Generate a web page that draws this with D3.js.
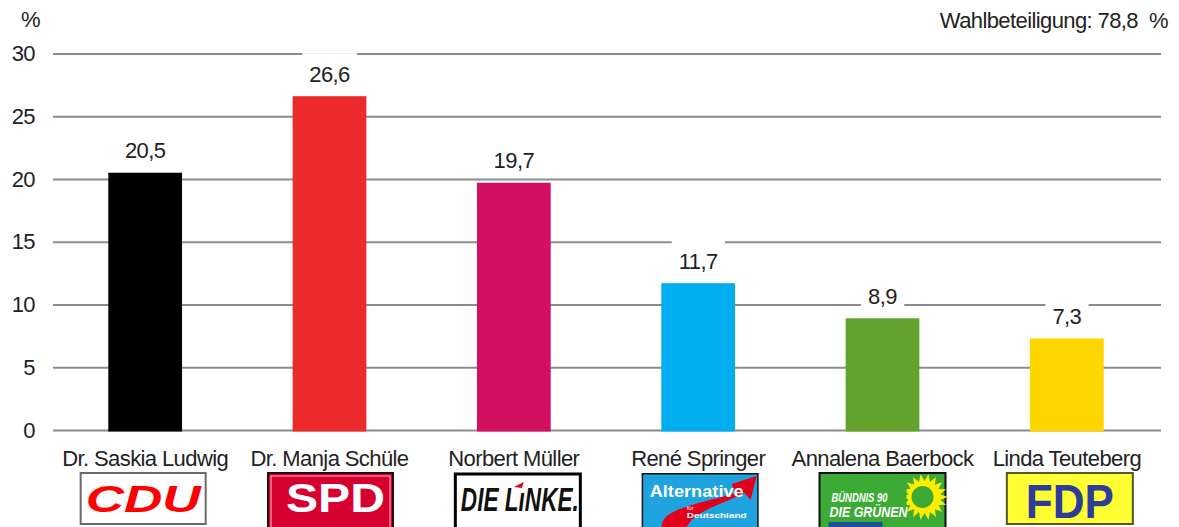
<!DOCTYPE html>
<html>
<head>
<meta charset="utf-8">
<script src="https://cdn.jsdelivr.net/npm/d3@7"></script>
<style>
  html, body { margin: 0; padding: 0; background: #fff; }
  svg { display: block; }
  text { font-family: "Liberation Sans", Arial, Helvetica, sans-serif; }
</style>
</head>
<body>
<svg id="chart" width="1179" height="527"></svg>
<script>
// ---- data ----
const candidates = ["Dr. Saskia Ludwig", "Dr. Manja Schüle", "Norbert Müller", "René Springer", "Annalena Baerbock", "Linda Teuteberg"];
const parties = ["CDU", "SPD", "LINKE", "AFD", "GRUENE", "FDP"];
const values = [20.5, 26.6, 19.7, 11.7, 8.9, 7.3];
const colors = ["#000000", "#ec2a2c", "#d20f60", "#00aeef", "#64a22e", "#ffd500"];
const yTicks = [0, 5, 10, 15, 20, 25, 30];
const unitLabel = "%";
const turnoutLabel = "Wahlbeteiligung: 78,8  %";

(function () {
// ---- setup ----
const pLeft = 53, pRight = 1161, pTop = 53.5, pBottom = 430;
const svg = d3.select("#chart");
const textColor = "#222";
const ls = "-0.6px";

const y = d3.scaleLinear().domain([0, 30]).range([pBottom, pTop]);
const x = d3.scaleBand().domain(candidates).range([pLeft, 1159]).paddingInner(0.6).paddingOuter(0.3);
const fmt = v => d3.format(".1f")(v).replace(".", ",");

// gridlines + y axis
const yAxis = d3.axisLeft(y).tickValues(yTicks).tickSize(-(pRight - pLeft)).tickPadding(18).tickFormat(d => d);
const gy = svg.append("g").attr("transform", `translate(${pLeft},0)`).call(yAxis);
gy.select(".domain").remove();
gy.selectAll(".tick line").attr("stroke", "#8c8c8c").attr("stroke-width", 2);
gy.selectAll(".tick text").attr("fill", textColor).attr("font-size", 22).style("letter-spacing", ls)
  .attr("font-family", "Liberation Sans, Arial, sans-serif");

// unit and turnout
svg.append("text").attr("x", 21).attr("y", 27).attr("font-size", 22).attr("fill", textColor).text(unitLabel);
svg.append("text").attr("x", 1168).attr("y", 28).attr("text-anchor", "end").attr("font-size", 22)
  .style("letter-spacing", ls).attr("fill", textColor).style("white-space", "pre").text(turnoutLabel);

// bars
svg.append("g").selectAll("rect").data(candidates).join("rect")
  .attr("x", d => x(d)).attr("width", x.bandwidth())
  .attr("y", (d, i) => y(values[i])).attr("height", (d, i) => y(0) - y(values[i]) + 1.5)
  .attr("fill", (d, i) => colors[i]);

// value labels with white background
const lg = svg.append("g");
candidates.forEach((c, i) => {
  const cx = x(c) + x.bandwidth() / 2;
  const base = y(values[i]) - 14.5;
  const g = lg.append("g");
  const bg = g.append("rect").attr("fill", "#fff");
  const t = g.append("text").attr("x", cx).attr("y", base).attr("text-anchor", "middle")
    .attr("font-size", 22).style("letter-spacing", ls).attr("fill", textColor).text(fmt(values[i]));
  const bb = t.node().getBBox();
  bg.attr("x", bb.x - 7).attr("width", bb.width + 14).attr("y", base - 28.5).attr("height", 33);
});

// category labels
svg.append("g").selectAll("text").data(candidates).join("text")
  .attr("x", d => x(d) + x.bandwidth() / 2).attr("y", 466).attr("text-anchor", "middle")
  .attr("font-size", 22).style("letter-spacing", ls).attr("fill", textColor).text(d => d);

// party logos
const logoTop = 473;
const drawLogo = {
  CDU(g, w) {
    g.append("rect").attr("x", 1).attr("y", 0).attr("width", w - 2).attr("height", 51).attr("fill", "#fff").attr("stroke", "#6b6b6b").attr("stroke-width", 2);
    g.append("text").attr("x", 6).attr("y", 39).attr("font-size", 37).attr("font-weight", "bold").attr("font-style", "italic")
      .attr("font-family", "DejaVu Sans, sans-serif").attr("fill", "#ff0000")
      .attr("textLength", 115).attr("lengthAdjust", "spacingAndGlyphs").text("CDU");
  },
  SPD(g, w) {
    g.append("rect").attr("x", 1).attr("y", 0).attr("width", w - 2).attr("height", 56).attr("fill", "#d5002f").attr("stroke", "#2a0810").attr("stroke-width", 2);
    g.append("rect").attr("x", 4).attr("y", 3).attr("width", w - 8).attr("height", 56).attr("fill", "none").attr("stroke", "#f3c0c8").attr("stroke-width", 1);
    g.append("text").attr("x", 19).attr("y", 39).attr("font-size", 41).attr("font-weight", "bold")
      .attr("font-family", "Liberation Sans, Arial, sans-serif").attr("fill", "#fff")
      .attr("textLength", 99).attr("lengthAdjust", "spacingAndGlyphs").text("SPD");
  },
  LINKE(g, w) {
    g.append("rect").attr("x", 1.5).attr("y", 1).attr("width", w - 3).attr("height", 56).attr("fill", "#fff").attr("stroke", "#000").attr("stroke-width", 3);
    g.append("text").attr("x", 7).attr("y", 38).attr("font-size", 33).attr("font-weight", "bold").attr("font-style", "italic")
      .attr("font-family", "DejaVu Sans, sans-serif").attr("fill", "#111")
      .attr("textLength", 118).attr("lengthAdjust", "spacingAndGlyphs").text("DIE LıNKE.");
    g.append("path").attr("d", "M 60 14 L 70 9 L 68 15 Z").attr("fill", "#e2001a");
  },
  AFD(g, w) {
    g.append("rect").attr("x", 0.75).attr("y", 0.75).attr("width", w - 1.5).attr("height", 60).attr("fill", "#1ea3df").attr("stroke", "#111").attr("stroke-width", 1.5);
    g.append("path").attr("d", "M 20 56 C 18 36, 50 33, 94 20 L 90 11 L 115 3 L 109 27 L 103 20 C 74 34, 52 38, 44 56 Z").attr("fill", "#e3001b");
    g.append("text").attr("x", 8).attr("y", 24).attr("font-size", 17).attr("font-weight", "bold")
      .attr("font-family", "Liberation Sans, Arial, sans-serif").attr("fill", "#fff")
      .attr("textLength", 94).attr("lengthAdjust", "spacingAndGlyphs").text("Alternative");
    g.append("text").attr("x", 45).attr("y", 37).attr("font-size", 6).attr("fill", "#fff").text("für");
    g.append("text").attr("x", 45).attr("y", 45).attr("font-size", 7).attr("font-weight", "bold").attr("fill", "#fff")
      .attr("textLength", 60).attr("lengthAdjust", "spacingAndGlyphs").text("Deutschland");
  },
  GRUENE(g, w) {
    g.append("rect").attr("x", 1).attr("y", 0).attr("width", w - 2).attr("height", 60).attr("fill", "#3bab35").attr("stroke", "#111").attr("stroke-width", 2);
    const cx = 106, cy = 24, n = 18;
    const pts = d3.range(n * 2).map(k => {
      const r = k % 2 ? 16 : 23, a = k * Math.PI / n;
      return [cx + r * Math.cos(a), cy + r * Math.sin(a)];
    });
    g.append("path").attr("d", d3.line()(pts) + "Z").attr("fill", "#ffed00");
    g.append("circle").attr("cx", cx - 2).attr("cy", cy).attr("r", 11).attr("fill", "#3bab35");
    g.append("rect").attr("x", 70).attr("y", 14).attr("width", 18).attr("height", 22).attr("fill", "#3bab35");
    g.append("text").attr("x", 13).attr("y", 29).attr("font-size", 13).attr("font-weight", "bold").attr("font-style", "italic")
      .attr("font-family", "DejaVu Sans, sans-serif").attr("fill", "#fff")
      .attr("textLength", 56).attr("lengthAdjust", "spacingAndGlyphs").text("BÜNDNIS 90");
    g.append("text").attr("x", 11).attr("y", 44).attr("font-size", 15).attr("font-weight", "bold").attr("font-style", "italic")
      .attr("font-family", "DejaVu Sans, sans-serif").attr("fill", "#fff")
      .attr("textLength", 78).attr("lengthAdjust", "spacingAndGlyphs").text("DIE GRÜNEN");
    g.append("rect").attr("x", 10).attr("y", 49).attr("width", 54).attr("height", 8).attr("fill", "#1f4e9d");
  },
  FDP(g, w) {
    g.append("rect").attr("x", 1).attr("y", 0).attr("width", w - 2).attr("height", 51).attr("fill", "#ffff33").attr("stroke", "#55552a").attr("stroke-width", 2);
    g.append("text").attr("x", 20).attr("y", 45).attr("font-size", 48).attr("font-weight", "bold")
      .attr("font-family", "Liberation Sans, Arial, sans-serif").attr("fill", "#2d3c9a")
      .attr("textLength", 88).attr("lengthAdjust", "spacingAndGlyphs").text("FDP");
  }
};
const logoW = { CDU: 127, SPD: 127, LINKE: 128, AFD: 117, GRUENE: 128, FDP: 128 };
const logoShift = { CDU: -2, SPD: 1, LINKE: 4, AFD: 2, GRUENE: 0, FDP: 3 };
candidates.forEach((c, i) => {
  const p = parties[i];
  const w = logoW[p];
  const cx = x(c) + x.bandwidth() / 2 + logoShift[p];
  const g = svg.append("g").attr("transform", `translate(${cx - w / 2},${logoTop})`);
  drawLogo[p](g, w);
});
})();
</script>
</body>
</html>
